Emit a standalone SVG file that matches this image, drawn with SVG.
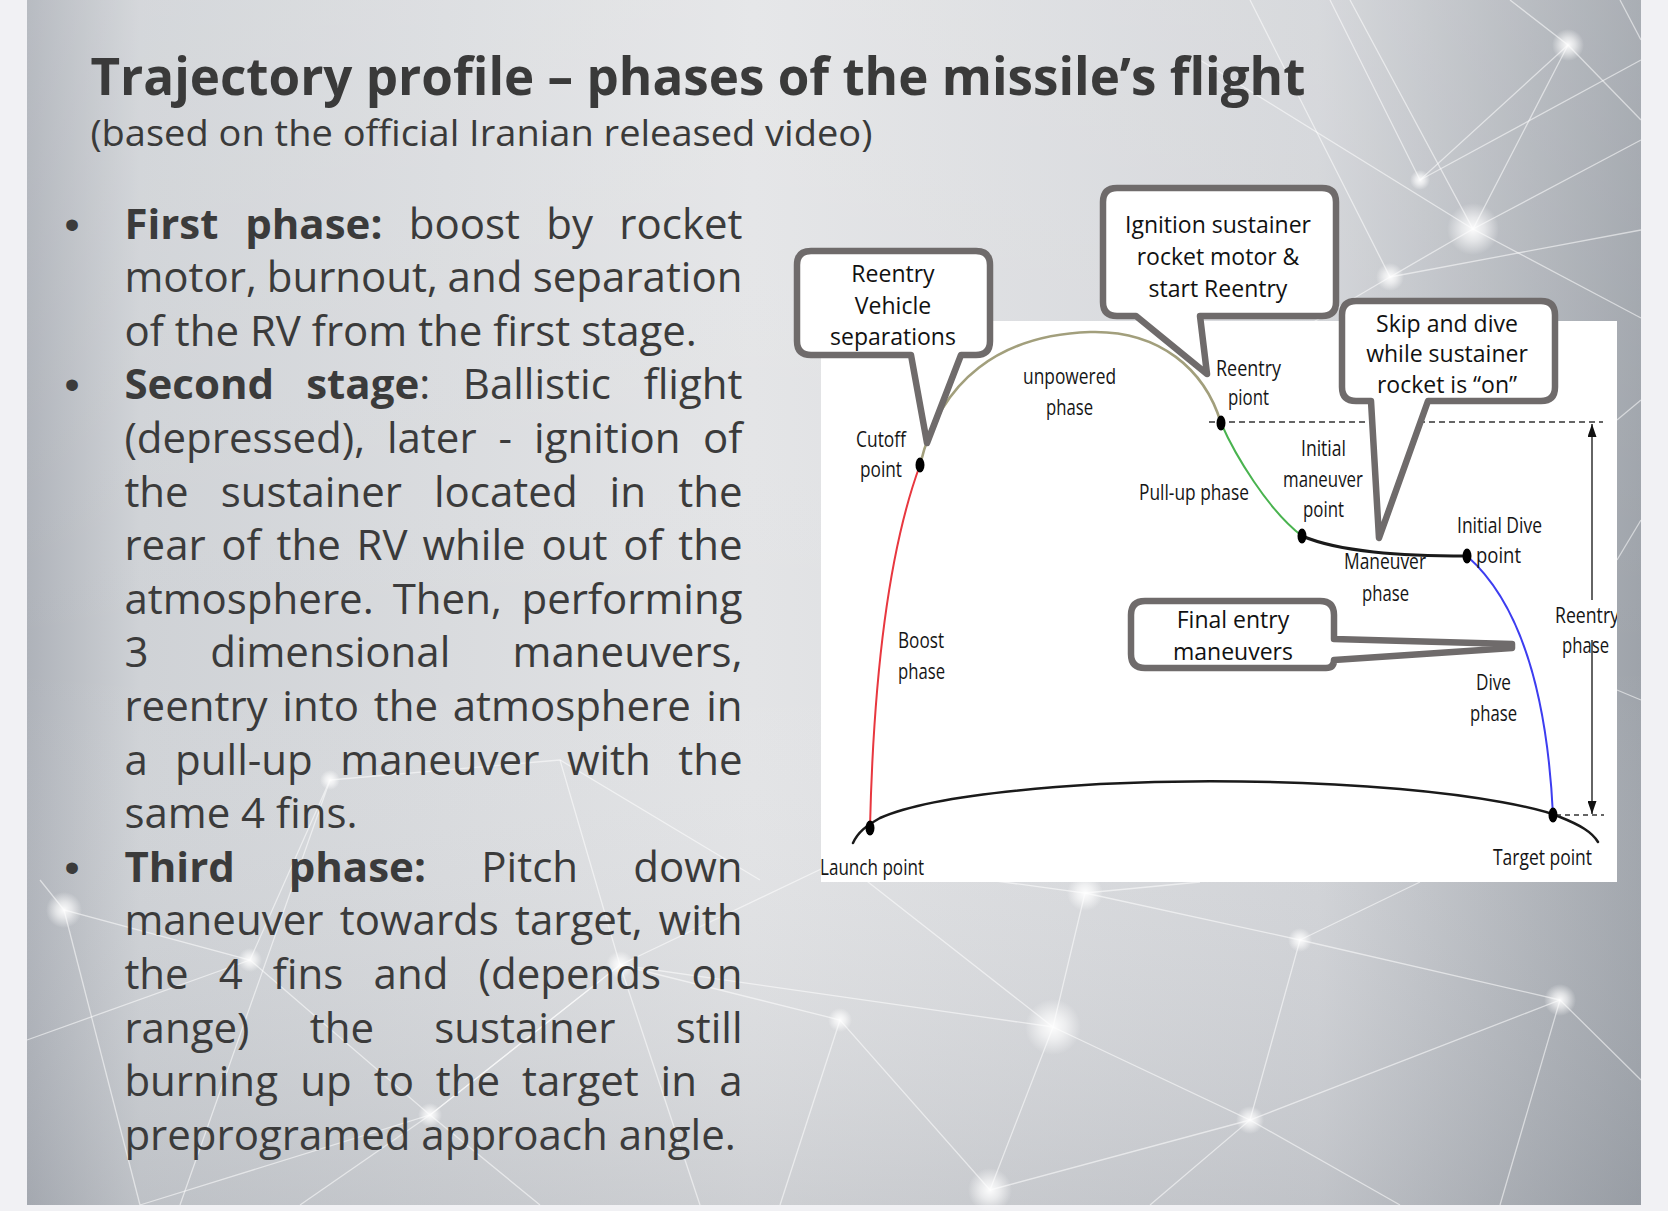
<svg xmlns="http://www.w3.org/2000/svg" width="1668" height="1211" viewBox="0 0 1668 1211">
<defs>
  <linearGradient id="bgH" x1="0" y1="0" x2="1" y2="0">
    <stop offset="0" stop-color="#aeb2b9"/>
    <stop offset="0.07" stop-color="#cfd2d6"/>
    <stop offset="0.45" stop-color="#e3e4e6"/>
    <stop offset="0.8" stop-color="#d2d4d8"/>
    <stop offset="1" stop-color="#9ea3aa"/>
  </linearGradient>
  <linearGradient id="bgV" x1="0" y1="0" x2="0" y2="1">
    <stop offset="0" stop-color="#ffffff" stop-opacity="0.12"/>
    <stop offset="0.55" stop-color="#ffffff" stop-opacity="0"/>
    <stop offset="1" stop-color="#80858e" stop-opacity="0.22"/>
  </linearGradient>
  <radialGradient id="glow">
    <stop offset="0" stop-color="#ffffff" stop-opacity="0.95"/>
    <stop offset="0.45" stop-color="#ffffff" stop-opacity="0.6"/>
    <stop offset="1" stop-color="#ffffff" stop-opacity="0"/>
  </radialGradient>
  <marker id="arr" viewBox="0 0 13 9" refX="13" refY="4.5" markerWidth="13" markerHeight="9" markerUnits="userSpaceOnUse" orient="auto">
    <path d="M0,0 L13,4.5 L0,9 Z" fill="#111"/>
  </marker>
  <clipPath id="plotClip"><rect x="821" y="321" width="796" height="561"/></clipPath>
</defs>
<style>
  .body{font-family:"Open Sans","Noto Sans",sans-serif;font-size:42px;fill:#3b3b3b}
  .b{font-weight:700}
  .end{text-anchor:end}
  .bul{font-family:"Liberation Sans",Arial,sans-serif;font-size:43px;fill:#3b3b3b}
  .lbl{font-family:"Open Sans","Noto Sans",sans-serif;font-size:21px;fill:#151515}
  .ct{font-family:"Open Sans","Noto Sans",sans-serif;font-size:23px;fill:#111;text-anchor:middle}
  .cb{fill:#ffffff;stroke:#6f6b6b;stroke-width:6.5;stroke-linejoin:round}
  .net{stroke:#ffffff;stroke-opacity:0.55;stroke-width:1.3;fill:none}
  .pt{fill:#000}
  .traj{fill:none;stroke-linecap:round}
</style>

<!-- page + slide background -->
<g id="background">
  <rect x="0" y="0" width="1668" height="1211" fill="#f1f1f4"/>
  <rect x="27" y="0" width="1614" height="1205" fill="url(#bgH)"/>
  <rect x="27" y="0" width="1614" height="1205" fill="url(#bgV)"/>
  <g class="net">
    <path d="M1350,0 L1473,229 L1568,45 L1510,0"/>
    <path d="M1473,229 L1641,140"/>
    <path d="M1473,229 L1641,318"/>
    <path d="M1473,229 L1390,277 L1250,0"/>
    <path d="M1390,277 L1641,230"/>
    <path d="M1568,45 L1641,120"/>
    <path d="M1568,45 L1420,180 L1330,0"/>
    <path d="M1420,180 L1641,60"/>
    <path d="M1200,60 L1473,229"/>
    <path d="M1390,277 L1300,330"/>
    <path d="M1620,0 L1641,40"/>
    <path d="M1641,400 L1617,420"/>
    <path d="M1641,520 L1617,560"/>
    <path d="M1641,700 L1617,690"/>
    <path d="M40,880 L64,910 L250,960 L430,1115 L620,965 L840,860"/>
    <path d="M64,910 L140,1205"/>
    <path d="M250,960 L330,780 L180,1205"/>
    <path d="M430,1115 L300,1205"/>
    <path d="M620,965 L700,1205"/>
    <path d="M620,965 L1053,1027 L1085,893 L840,860 L1053,1027"/>
    <path d="M1053,1027 L990,1190 L840,1020 L620,965"/>
    <path d="M1053,1027 L1250,1120 L1560,1000 L1641,1080"/>
    <path d="M1085,893 L1300,940 L1560,1000"/>
    <path d="M1300,940 L1250,1120 L1150,1205"/>
    <path d="M1250,1120 L1400,1205"/>
    <path d="M1560,1000 L1500,1205"/>
    <path d="M1085,893 L1200,882"/>
    <path d="M1300,940 L1420,882"/>
    <path d="M430,1115 L620,965 L560,760"/>
    <path d="M330,780 L560,760 L760,880"/>
    <path d="M990,1190 L1250,1120"/>
    <path d="M840,1020 L780,1205"/>
    <path d="M27,1040 L250,960"/>
    <path d="M140,1205 L430,1115 L540,1205"/>
  </g>
  <g fill="url(#glow)">
    <circle cx="1473" cy="229" r="26"/>
    <circle cx="1568" cy="45" r="16"/>
    <circle cx="1390" cy="277" r="14"/>
    <circle cx="1420" cy="180" r="10"/>
    <circle cx="1053" cy="1027" r="28"/>
    <circle cx="1085" cy="893" r="18"/>
    <circle cx="990" cy="1190" r="22"/>
    <circle cx="64" cy="910" r="18"/>
    <circle cx="250" cy="960" r="12"/>
    <circle cx="620" cy="965" r="14"/>
    <circle cx="430" cy="1115" r="12"/>
    <circle cx="1300" cy="940" r="12"/>
    <circle cx="1250" cy="1120" r="14"/>
    <circle cx="1560" cy="1000" r="16"/>
    <circle cx="840" cy="860" r="10"/>
    <circle cx="330" cy="780" r="10"/>
    <circle cx="840" cy="1020" r="12"/>
  </g>
</g>

<!-- title -->
<g id="title">
  <text x="90.4" y="95" font-family="'Open Sans','Noto Sans',sans-serif" font-size="52" font-weight="700" fill="#3a3a3a" textLength="1215" lengthAdjust="spacingAndGlyphs">Trajectory profile – phases of the missile’s flight</text>
  <text x="90.4" y="146" font-family="'Open Sans','Noto Sans',sans-serif" font-size="36" fill="#3a3a3a" textLength="782" lengthAdjust="spacingAndGlyphs">(based on the official Iranian released video)</text>
</g>

<!-- bullet list -->
<g id="bullets">
  <text class="bul" x="64.5" y="238.5">•</text>
  <text class="bul" x="64.5" y="399.3">•</text>
  <text class="bul" x="64.5" y="881.7">•</text>

  <text class="body" y="238.5"><tspan class="b" x="124.4">First</tspan> <tspan class="b" x="245.2">phase:</tspan> <tspan x="408.7">boost</tspan> <tspan x="546.3">by</tspan> <tspan class="end" x="742.5">rocket</tspan></text>
  <text class="body" y="292.1"><tspan x="124.4">motor,</tspan> <tspan x="266.7">burnout,</tspan> <tspan x="447.6">and</tspan> <tspan class="end" x="742.5">separation</tspan></text>
  <text class="body" x="124.4" y="345.7">of the RV from the first stage.</text>
  <text class="body" y="399.3"><tspan class="b" x="124.4">Second</tspan> <tspan class="b" x="306.2">stage</tspan>: <tspan x="462.8">Ballistic</tspan> <tspan class="end" x="742.5">flight</tspan></text>
  <text class="body" y="452.9"><tspan x="124.4">(depressed),</tspan> <tspan x="386.9">later</tspan> <tspan x="498.5">-</tspan> <tspan x="534.1">ignition</tspan> <tspan class="end" x="742.5">of</tspan></text>
  <text class="body" y="506.5"><tspan x="124.4">the</tspan> <tspan x="220.7">sustainer</tspan> <tspan x="434">located</tspan> <tspan x="609.6">in</tspan> <tspan class="end" x="742.5">the</tspan></text>
  <text class="body" y="560.1"><tspan x="124.4">rear</tspan> <tspan x="221.3">of</tspan> <tspan x="276.6">the</tspan> <tspan x="356.5">RV</tspan> <tspan x="422.5">while</tspan> <tspan x="541.5">out</tspan> <tspan x="623.2">of</tspan> <tspan class="end" x="742.5">the</tspan></text>
  <text class="body" y="613.7"><tspan x="124.4">atmosphere.</tspan> <tspan x="392.7">Then,</tspan> <tspan class="end" x="742.5">performing</tspan></text>
  <text class="body" y="667.3"><tspan x="124.4">3</tspan> <tspan x="210.2">dimensional</tspan> <tspan class="end" x="742.5">maneuvers,</tspan></text>
  <text class="body" y="720.9"><tspan x="124.4">reentry</tspan> <tspan x="282.3">into</tspan> <tspan x="373.7">the</tspan> <tspan x="452.7">atmosphere</tspan> <tspan class="end" x="742.5">in</tspan></text>
  <text class="body" y="774.5"><tspan x="124.4">a</tspan> <tspan x="175.1">pull-up</tspan> <tspan x="340.3">maneuver</tspan> <tspan x="566.9">with</tspan> <tspan class="end" x="742.5">the</tspan></text>
  <text class="body" x="124.4" y="828.1">same 4 fins.</text>
  <text class="body" y="881.7"><tspan class="b" x="124.4">Third</tspan> <tspan class="b" x="288.7">phase:</tspan> <tspan x="481.3">Pitch</tspan> <tspan class="end" x="742.5">down</tspan></text>
  <text class="body" y="935.3"><tspan x="124.4">maneuver</tspan> <tspan x="339.8">towards</tspan> <tspan x="515">target,</tspan> <tspan class="end" x="742.5">with</tspan></text>
  <text class="body" y="988.9"><tspan x="124.4">the</tspan> <tspan x="218.7">4</tspan> <tspan x="272.8">fins</tspan> <tspan x="373.6">and</tspan> <tspan x="478.6">(depends</tspan> <tspan class="end" x="742.5">on</tspan></text>
  <text class="body" y="1042.5"><tspan x="124.4">range)</tspan> <tspan x="309.8">the</tspan> <tspan x="434.2">sustainer</tspan> <tspan class="end" x="742.5">still</tspan></text>
  <text class="body" y="1096.1"><tspan x="124.4">burning</tspan> <tspan x="300.2">up</tspan> <tspan x="373.7">to</tspan> <tspan x="435.8">the</tspan> <tspan x="522">target</tspan> <tspan x="660.6">in</tspan> <tspan class="end" x="742.5">a</tspan></text>
  <text class="body" x="124.4" y="1149.7">preprogramed approach angle.</text>
</g>

<!-- diagram panel -->
<g id="plot-panel">
  <rect x="821" y="321" width="796" height="561" fill="#ffffff"/>
</g>

<g clip-path="url(#plotClip)">
  <g id="ground">
    <path class="traj" d="M853,843 C858,832 866,826 880,818 C920,800 1000,790 1100,784 C1200,779 1300,781 1400,789 C1480,796 1540,808 1560,817 C1580,825 1592,832 1598,842" stroke="#1a1a1a" stroke-width="2.5"/>
  </g>

  <g id="connectors">
    <path class="traj" d="M870,827 C873,700 885,560 920,465" stroke="#e8373f" stroke-width="2"/>
    <path class="traj" d="M920,465 C940,380 1000,335 1090,332 C1160,330 1205,370 1221,423" stroke="#a29f7c" stroke-width="2.6"/>
    <path class="traj" d="M1221,423 C1235,455 1268,510 1302,536" stroke="#49b34f" stroke-width="2"/>
    <path class="traj" d="M1302,536 C1340,552 1400,556 1467,556" stroke="#1a1a1a" stroke-width="3"/>
    <path class="traj" d="M1467,556 C1500,585 1545,650 1553,815" stroke="#3d3df0" stroke-width="2"/>
    <line x1="1209" y1="422" x2="1603" y2="422" stroke="#333" stroke-width="1.3" stroke-dasharray="6 4"/>
    <line x1="1556" y1="815" x2="1604" y2="815" stroke="#333" stroke-width="1.3" stroke-dasharray="5 4"/>
    <line x1="1592" y1="600" x2="1592" y2="424" stroke="#111" stroke-width="1.3" marker-end="url(#arr)"/>
    <line x1="1592" y1="640" x2="1592" y2="814" stroke="#111" stroke-width="1.3" marker-end="url(#arr)"/>
  </g>

  <g id="launch-point">
    <ellipse class="pt" cx="870" cy="828" rx="4.5" ry="7.5"/>
    <text class="lbl" x="820" y="875" textLength="104" lengthAdjust="spacingAndGlyphs">Launch point</text>
  </g>
  <g id="boost-phase">
    <text class="lbl" x="898" y="648" textLength="46" lengthAdjust="spacingAndGlyphs">Boost</text>
    <text class="lbl" x="898" y="679" textLength="47" lengthAdjust="spacingAndGlyphs">phase</text>
  </g>
  <g id="cutoff-point">
    <ellipse class="pt" cx="920" cy="465" rx="4.5" ry="7.5"/>
    <text class="lbl" x="856" y="447" textLength="50" lengthAdjust="spacingAndGlyphs">Cutoff</text>
    <text class="lbl" x="860" y="477" textLength="42" lengthAdjust="spacingAndGlyphs">point</text>
  </g>
  <g id="unpowered-phase">
    <text class="lbl" x="1023" y="384" textLength="93" lengthAdjust="spacingAndGlyphs">unpowered</text>
    <text class="lbl" x="1046" y="415" textLength="47" lengthAdjust="spacingAndGlyphs">phase</text>
  </g>
  <g id="reentry-point">
    <ellipse class="pt" cx="1221" cy="423" rx="4.5" ry="7.5"/>
    <text class="lbl" x="1216" y="376" textLength="65" lengthAdjust="spacingAndGlyphs">Reentry</text>
    <text class="lbl" x="1228" y="405" textLength="41" lengthAdjust="spacingAndGlyphs">piont</text>
  </g>
  <g id="pullup-phase">
    <text class="lbl" x="1139" y="500" textLength="110" lengthAdjust="spacingAndGlyphs">Pull-up phase</text>
  </g>
  <g id="initial-maneuver-point">
    <ellipse class="pt" cx="1302" cy="536" rx="4.5" ry="7.5"/>
    <text class="lbl" x="1301" y="456" textLength="45" lengthAdjust="spacingAndGlyphs">Initial</text>
    <text class="lbl" x="1283" y="487" textLength="80" lengthAdjust="spacingAndGlyphs">maneuver</text>
    <text class="lbl" x="1303" y="517" textLength="41" lengthAdjust="spacingAndGlyphs">point</text>
  </g>
  <g id="maneuver-phase">
    <text class="lbl" x="1344" y="569" textLength="82" lengthAdjust="spacingAndGlyphs">Maneuver</text>
    <text class="lbl" x="1362" y="601" textLength="47" lengthAdjust="spacingAndGlyphs">phase</text>
  </g>
  <g id="initial-dive-point">
    <ellipse class="pt" cx="1467" cy="556" rx="4.5" ry="7.5"/>
    <text class="lbl" x="1457" y="533" textLength="85" lengthAdjust="spacingAndGlyphs">Initial Dive</text>
    <text class="lbl" x="1476" y="563" textLength="45" lengthAdjust="spacingAndGlyphs">point</text>
  </g>
  <g id="dive-phase">
    <text class="lbl" x="1476" y="690" textLength="35" lengthAdjust="spacingAndGlyphs">Dive</text>
    <text class="lbl" x="1470" y="721" textLength="47" lengthAdjust="spacingAndGlyphs">phase</text>
  </g>
  <g id="reentry-phase">
    <text class="lbl" x="1555" y="623" textLength="64" lengthAdjust="spacingAndGlyphs">Reentry</text>
    <text class="lbl" x="1562" y="653" textLength="47" lengthAdjust="spacingAndGlyphs">phase</text>
  </g>
  <g id="target-point">
    <ellipse class="pt" cx="1553" cy="815" rx="4.5" ry="7.5"/>
    <text class="lbl" x="1493" y="865" textLength="99" lengthAdjust="spacingAndGlyphs">Target point</text>
  </g>
</g>

<!-- callouts -->
<g id="callout-rv-separations">
  <path class="cb" d="M811,251 H976 Q990,251 990,265 V341 Q990,355 976,355 H961 L927,443 L911,355 H811 Q797,355 797,341 V265 Q797,251 811,251 Z"/>
  <text class="ct" x="893" y="282">Reentry</text>
  <text class="ct" x="893" y="314">Vehicle</text>
  <text class="ct" x="893" y="345">separations</text>
</g>
<g id="callout-ignition">
  <path class="cb" d="M1117,188 H1322 Q1336,188 1336,202 V302 Q1336,316 1322,316 H1200 L1207,374 L1136,316 H1117 Q1103,316 1103,302 V202 Q1103,188 1117,188 Z"/>
  <text class="ct" x="1218" y="233">Ignition sustainer</text>
  <text class="ct" x="1218" y="265">rocket motor &amp;</text>
  <text class="ct" x="1218" y="297">start Reentry</text>
</g>
<g id="callout-skip-dive">
  <path class="cb" d="M1356,301 H1541 Q1555,301 1555,315 V387 Q1555,401 1541,401 H1428 L1379,538 L1371,401 H1356 Q1342,401 1342,387 V315 Q1342,301 1356,301 Z"/>
  <text class="ct" x="1447" y="332">Skip and dive</text>
  <text class="ct" x="1447" y="362">while sustainer</text>
  <text class="ct" x="1447" y="393">rocket is “on”</text>
</g>
<g id="callout-final-entry">
  <path class="cb" d="M1145,601 H1320 Q1334,601 1334,615 V639 L1512,644 L1512,648 L1334,660 Q1334,668 1326,668 H1145 Q1131,668 1131,654 V615 Q1131,601 1145,601 Z"/>
  <text class="ct" x="1233" y="628">Final entry</text>
  <text class="ct" x="1233" y="660">maneuvers</text>
</g>
</svg>
